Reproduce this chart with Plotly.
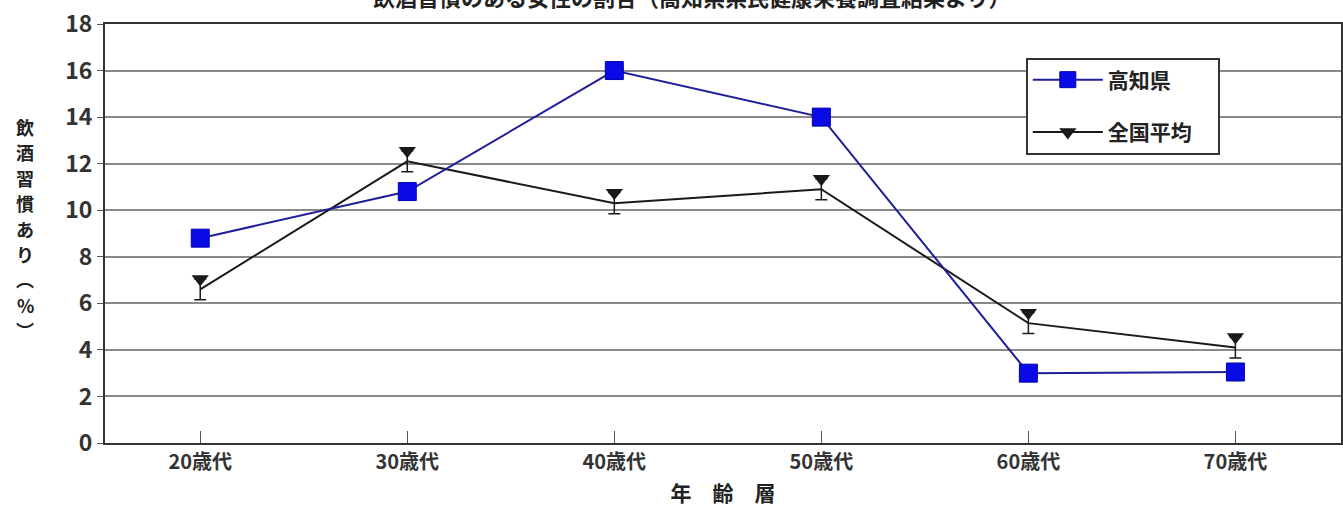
import plotly.graph_objects as go

# 年齢層別 飲酒習慣のある女性の割合
age_groups = ["20歳代", "30歳代", "40歳代", "50歳代", "60歳代", "70歳代"]
kochi = [8.8, 10.8, 16.0, 14.0, 3.0, 3.05]
national = [6.6, 12.1, 10.3, 10.9, 5.15, 4.1]
y_ticks = [0, 2, 4, 6, 8, 10, 12, 14, 16, 18]
y_title_chars = ["飲", "酒", "習", "慣", "あ", "り", "︵", "%", "︶"]

FONT = "Noto Sans CJK JP"
glass_top = 0.45  # 全国平均マーカー（逆三角）の中心までの高さ

fig = go.Figure()

# 全国平均：折れ線＋支柱（誤差棒で描く）
fig.add_trace(go.Scatter(
    x=age_groups, y=national, name="全国平均", mode="lines+markers",
    line=dict(color="#1a1a1a", width=2),
    marker=dict(symbol="triangle-down", size=1, color="#1a1a1a"),
    error_y=dict(type="constant", value=glass_top, color="#1a1a1a",
                 thickness=1.5, width=6),
    showlegend=False,
))
# 全国平均：逆三角の頭
fig.add_trace(go.Scatter(
    x=age_groups, y=[v + glass_top for v in national], mode="markers",
    marker=dict(symbol="triangle-down", size=15, color="#1a1a1a"),
    showlegend=False, hoverinfo="skip",
))

# 高知県
fig.add_trace(go.Scatter(
    x=age_groups, y=kochi, name="高知県　　", mode="lines+markers",
    legendgroup="a",
    line=dict(color="#1f1f9a", width=2),
    marker=dict(symbol="square", size=18, color="#0a0ae6",
                line=dict(color="#0000b0", width=1)),
))
# 凡例用（全国平均）
fig.add_trace(go.Scatter(
    x=[None], y=[None], name="全国平均　", mode="lines+markers",
    legendgroup="b",
    line=dict(color="#1a1a1a", width=2),
    marker=dict(symbol="triangle-down", size=15, color="#1a1a1a"),
))

# 縦書きの軸タイトル
pitch = 25.4
annotations = []
for i, ch in enumerate(y_title_chars):
    py = 127 + i * pitch
    annotations.append(dict(
        text=ch, xref="paper", yref="paper",
        x=-0.0645, y=(443 - py) / 419, xanchor="center", yanchor="middle",
        showarrow=False,
        font=dict(size=18, family=FONT, color="#222222", weight=600),
    ))
annotations.append(dict(
    text="<b>飲酒習慣のある女性の割合（高知県県民健康栄養調査結果より）</b>",
    xref="paper", yref="paper", x=0.475, y=1.0,
    xanchor="center", yanchor="bottom", yshift=10, showarrow=False,
    font=dict(size=22, family=FONT, color="#222222"),
))

fig.update_layout(
    width=1343, height=513,
    margin=dict(l=105, r=0, t=24, b=70),
    paper_bgcolor="white", plot_bgcolor="white",
    font=dict(family=FONT, color="#333333"),
    showlegend=True,
    legend=dict(
        x=0.745, y=0.92, xanchor="left", yanchor="top",
        bgcolor="white", bordercolor="#333333", borderwidth=2,
        font=dict(size=21, family=FONT, color="#222222", weight=600),
        itemwidth=70, tracegroupgap=22, traceorder="grouped",
    ),
    xaxis=dict(
        type="category", range=[-0.46, 5.51],
        showgrid=False, showline=True, linecolor="#333333", linewidth=2,
        mirror=True, ticks="inside", ticklen=12, tickcolor="#555555",
        tickfont=dict(size=20, family=FONT, color="#333333", weight=600),
        title=dict(text="年　齢　層",
                   font=dict(size=21, family=FONT, color="#222222", weight=600),
                   standoff=12),
    ),
    yaxis=dict(
        range=[0, 18], tickvals=y_ticks,
        showgrid=True, gridcolor="#8a8a8a", gridwidth=2,
        showline=True, linecolor="#333333", linewidth=2, mirror=True,
        ticks="outside", ticklen=6, tickcolor="#555555",
        tickfont=dict(size=23, family=FONT, color="#333333", weight=600),
        zeroline=False,
    ),
    annotations=annotations,
)

fig.write_html("out.html")
